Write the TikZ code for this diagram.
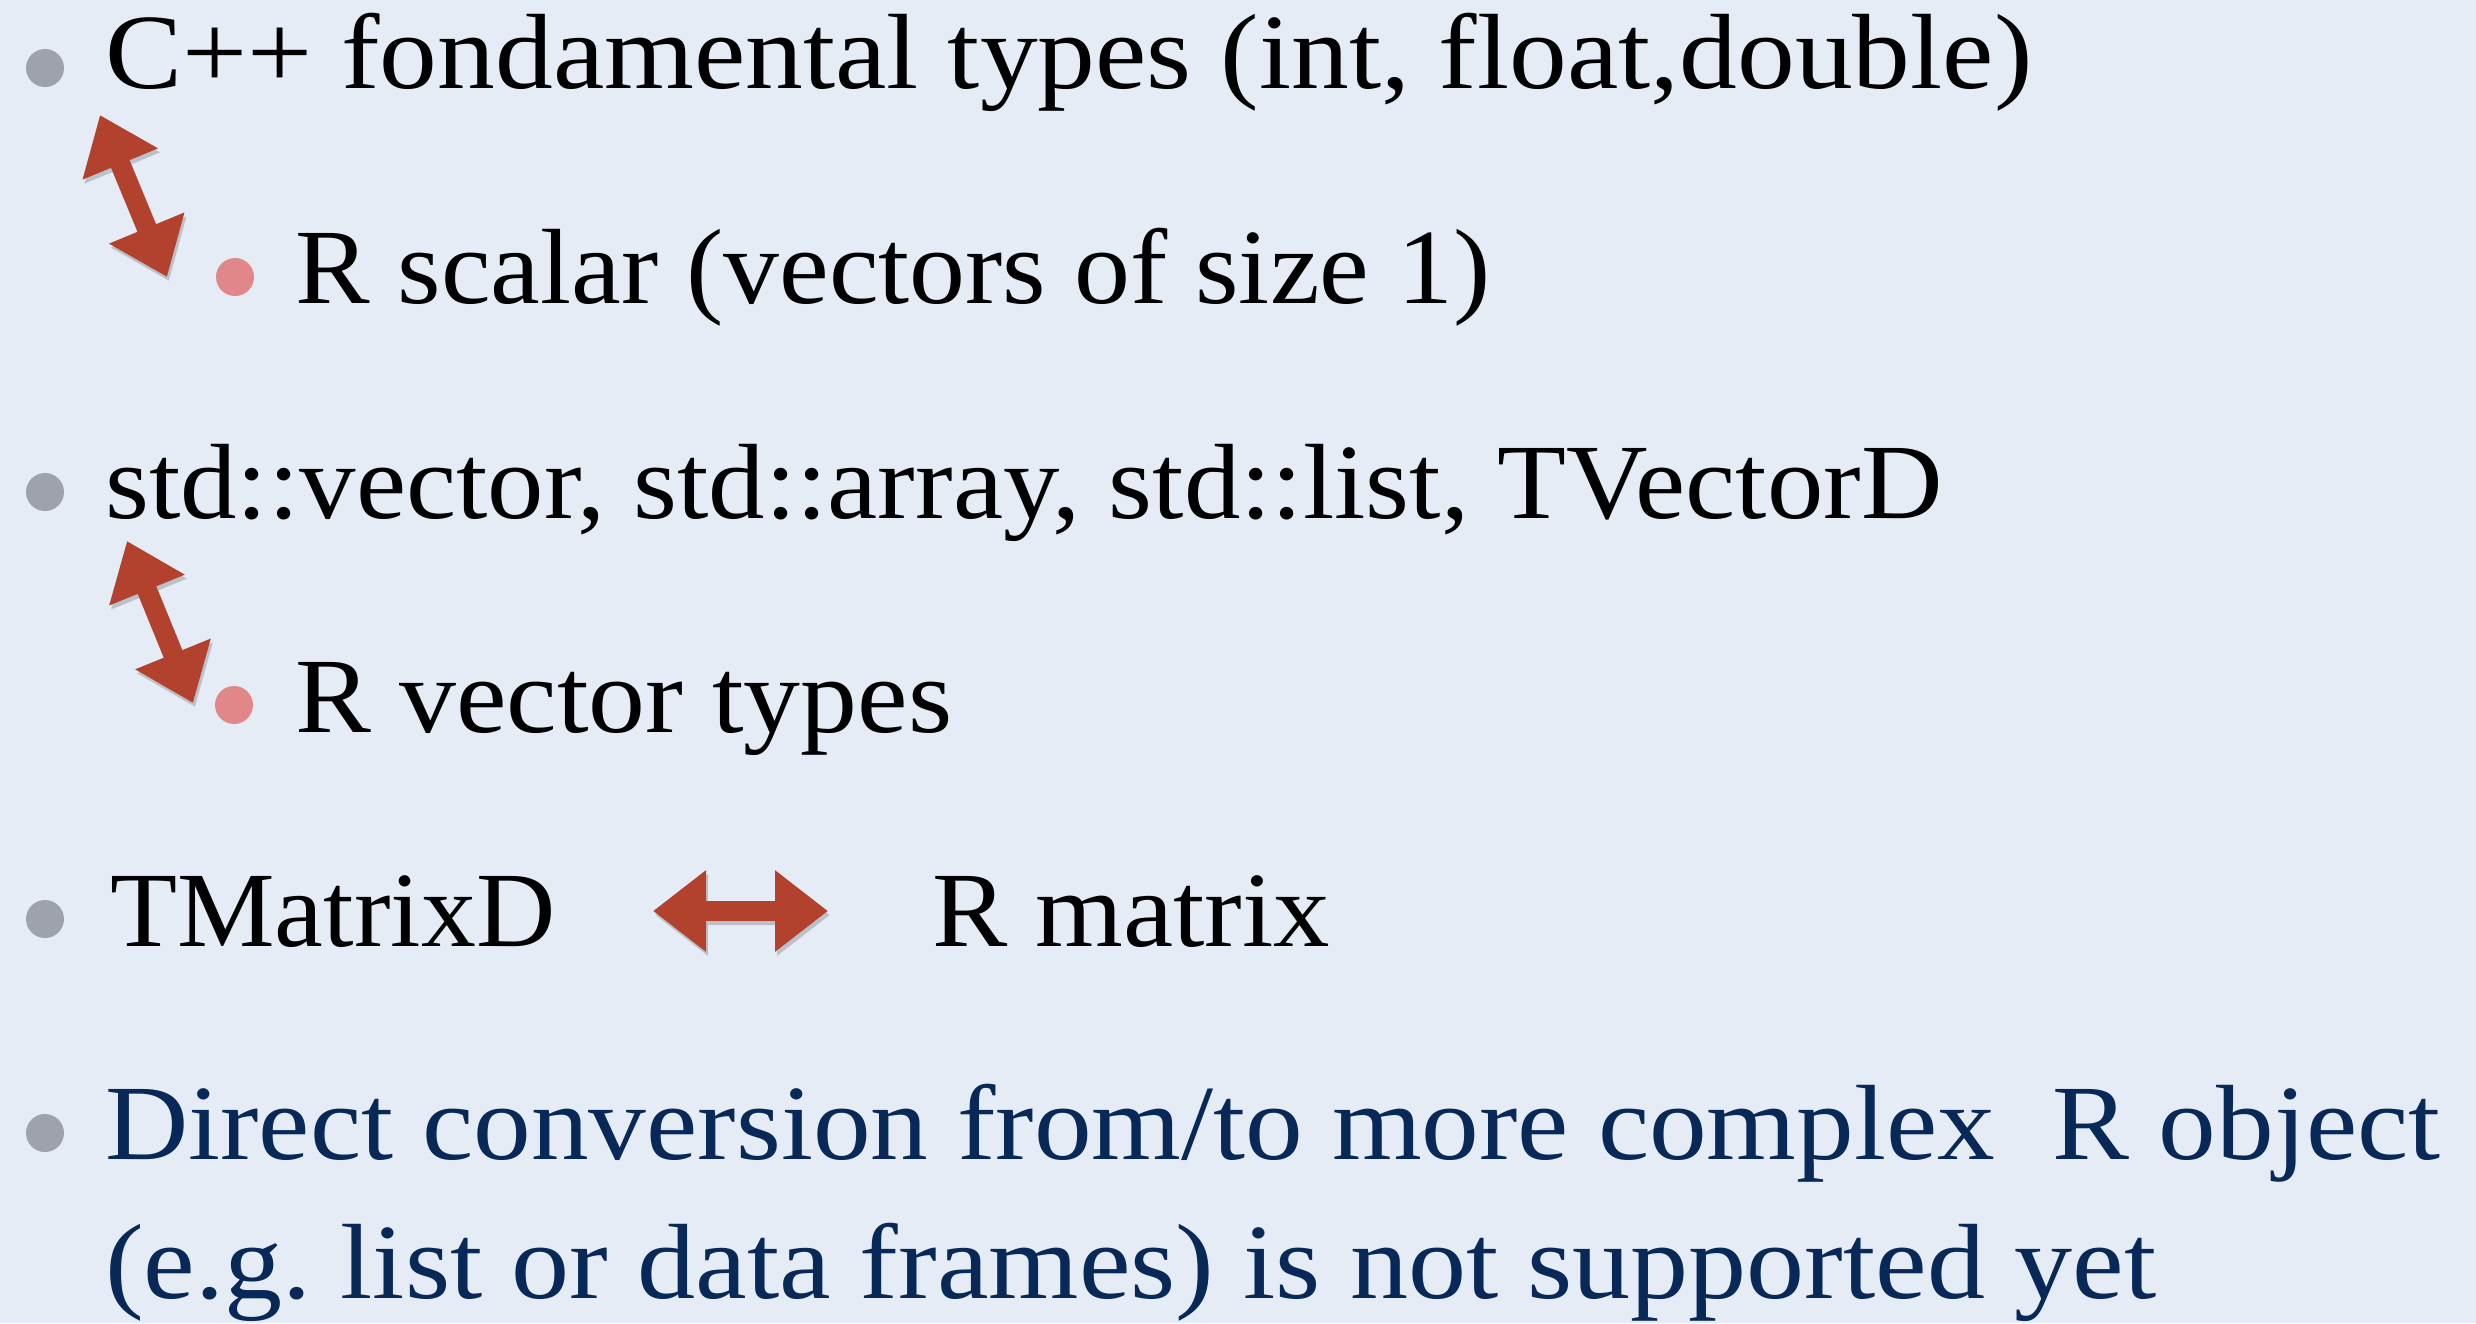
\documentclass[tikz,border=0pt]{standalone}
\usepackage{fontspec}
\setmainfont{Liberation Serif}
\usepackage{graphicx}
\usetikzlibrary{arrows.meta}

\definecolor{bg}{RGB}{229,236,245}
\definecolor{dotgray}{RGB}{158,163,171}
\definecolor{dotred}{RGB}{225,135,138}
\definecolor{arrowred}{RGB}{178,66,46}
\definecolor{navy}{RGB}{8,40,88}

% set a line of text to a given width, keeping its height
\newcommand{\fitline}[2]{\resizebox{#1pt}{\height}{#2}}

\tikzset{
  txt/.style={anchor=base west, inner sep=0pt, font=\fontsize{107}{128}\selectfont},
  dot/.style={circle, inner sep=0pt, minimum size=38pt},
  graydot/.style={dot, fill=dotgray},
  reddot/.style={dot, fill=dotred},
  dblarrow/.style={line width=20pt, draw=arrowred,
    {Triangle[length=53pt,width=78pt]}-{Triangle[length=53pt,width=78pt]}},
  arrowshade/.style={line width=20pt, draw=black,
    {Triangle[length=53pt,width=78pt]}-{Triangle[length=53pt,width=78pt]}}
}

\begin{document}
\begin{tikzpicture}[x=1pt,y=-1pt]
  \useasboundingbox (0,0) rectangle (2476,1323);
  \fill[bg] (0,0) rectangle (2476,1323);

  % bullets
  \node[graydot] (b1) at (45,68) {};
  \node[reddot]  (b2) at (235,277) {};
  \node[graydot] (b3) at (45,492) {};
  \node[reddot]  (b4) at (234,705) {};
  \node[graydot] (b5) at (45,919) {};
  \node[graydot] (b6) at (45,1133) {};

  % text lines
  \node[txt] (l1) at (105,88)  {\fitline{1927}{C++ fondamental types (int, float,double)}};
  \node[txt] (l2) at (295,303) {\fitline{1195}{R scalar (vectors of size 1)}};
  \node[txt] (l3) at (105,518) {\fitline{1837}{std::vector, std::array, std::list, TVectorD}};
  \node[txt] (l4) at (295,732) {\fitline{657}{R vector types}};
  \node[txt] (l5a) at (110,946) {\fitline{445}{TMatrixD}};
  \node[txt] (l5b) at (932,946) {\fitline{398}{R matrix}};
  \node[txt, text=navy] (l6) at (105,1159) {\fitline{2335}{Direct conversion from/to more complex\ \ R object}};
  \node[txt, text=navy] (l7) at (105,1298) {\fitline{2051}{(e.g.\ list or data frames) is not supported yet}};

  % arrow end points
  \coordinate (a1s) at (100,115);
  \coordinate (a1e) at (167,277);
  \coordinate (a2s) at (127,541);
  \coordinate (a2e) at (193,703);
  \coordinate (a3s) at (653,911);
  \coordinate (a3e) at (828,911);

  % soft shadows under the arrows
  \begin{scope}[transparency group, opacity=0.18]
    \draw[arrowshade] ([shift={(2,4)}]a1s) -- ([shift={(2,4)}]a1e);
    \draw[arrowshade] ([shift={(2,4)}]a2s) -- ([shift={(2,4)}]a2e);
    \draw[arrowshade] ([shift={(2,4)}]a3s) -- ([shift={(2,4)}]a3e);
  \end{scope}

  % double arrows
  \draw[dblarrow] (a1s) -- (a1e);
  \draw[dblarrow] (a2s) -- (a2e);
  \draw[dblarrow] (a3s) -- (a3e);
\end{tikzpicture}
\end{document}
